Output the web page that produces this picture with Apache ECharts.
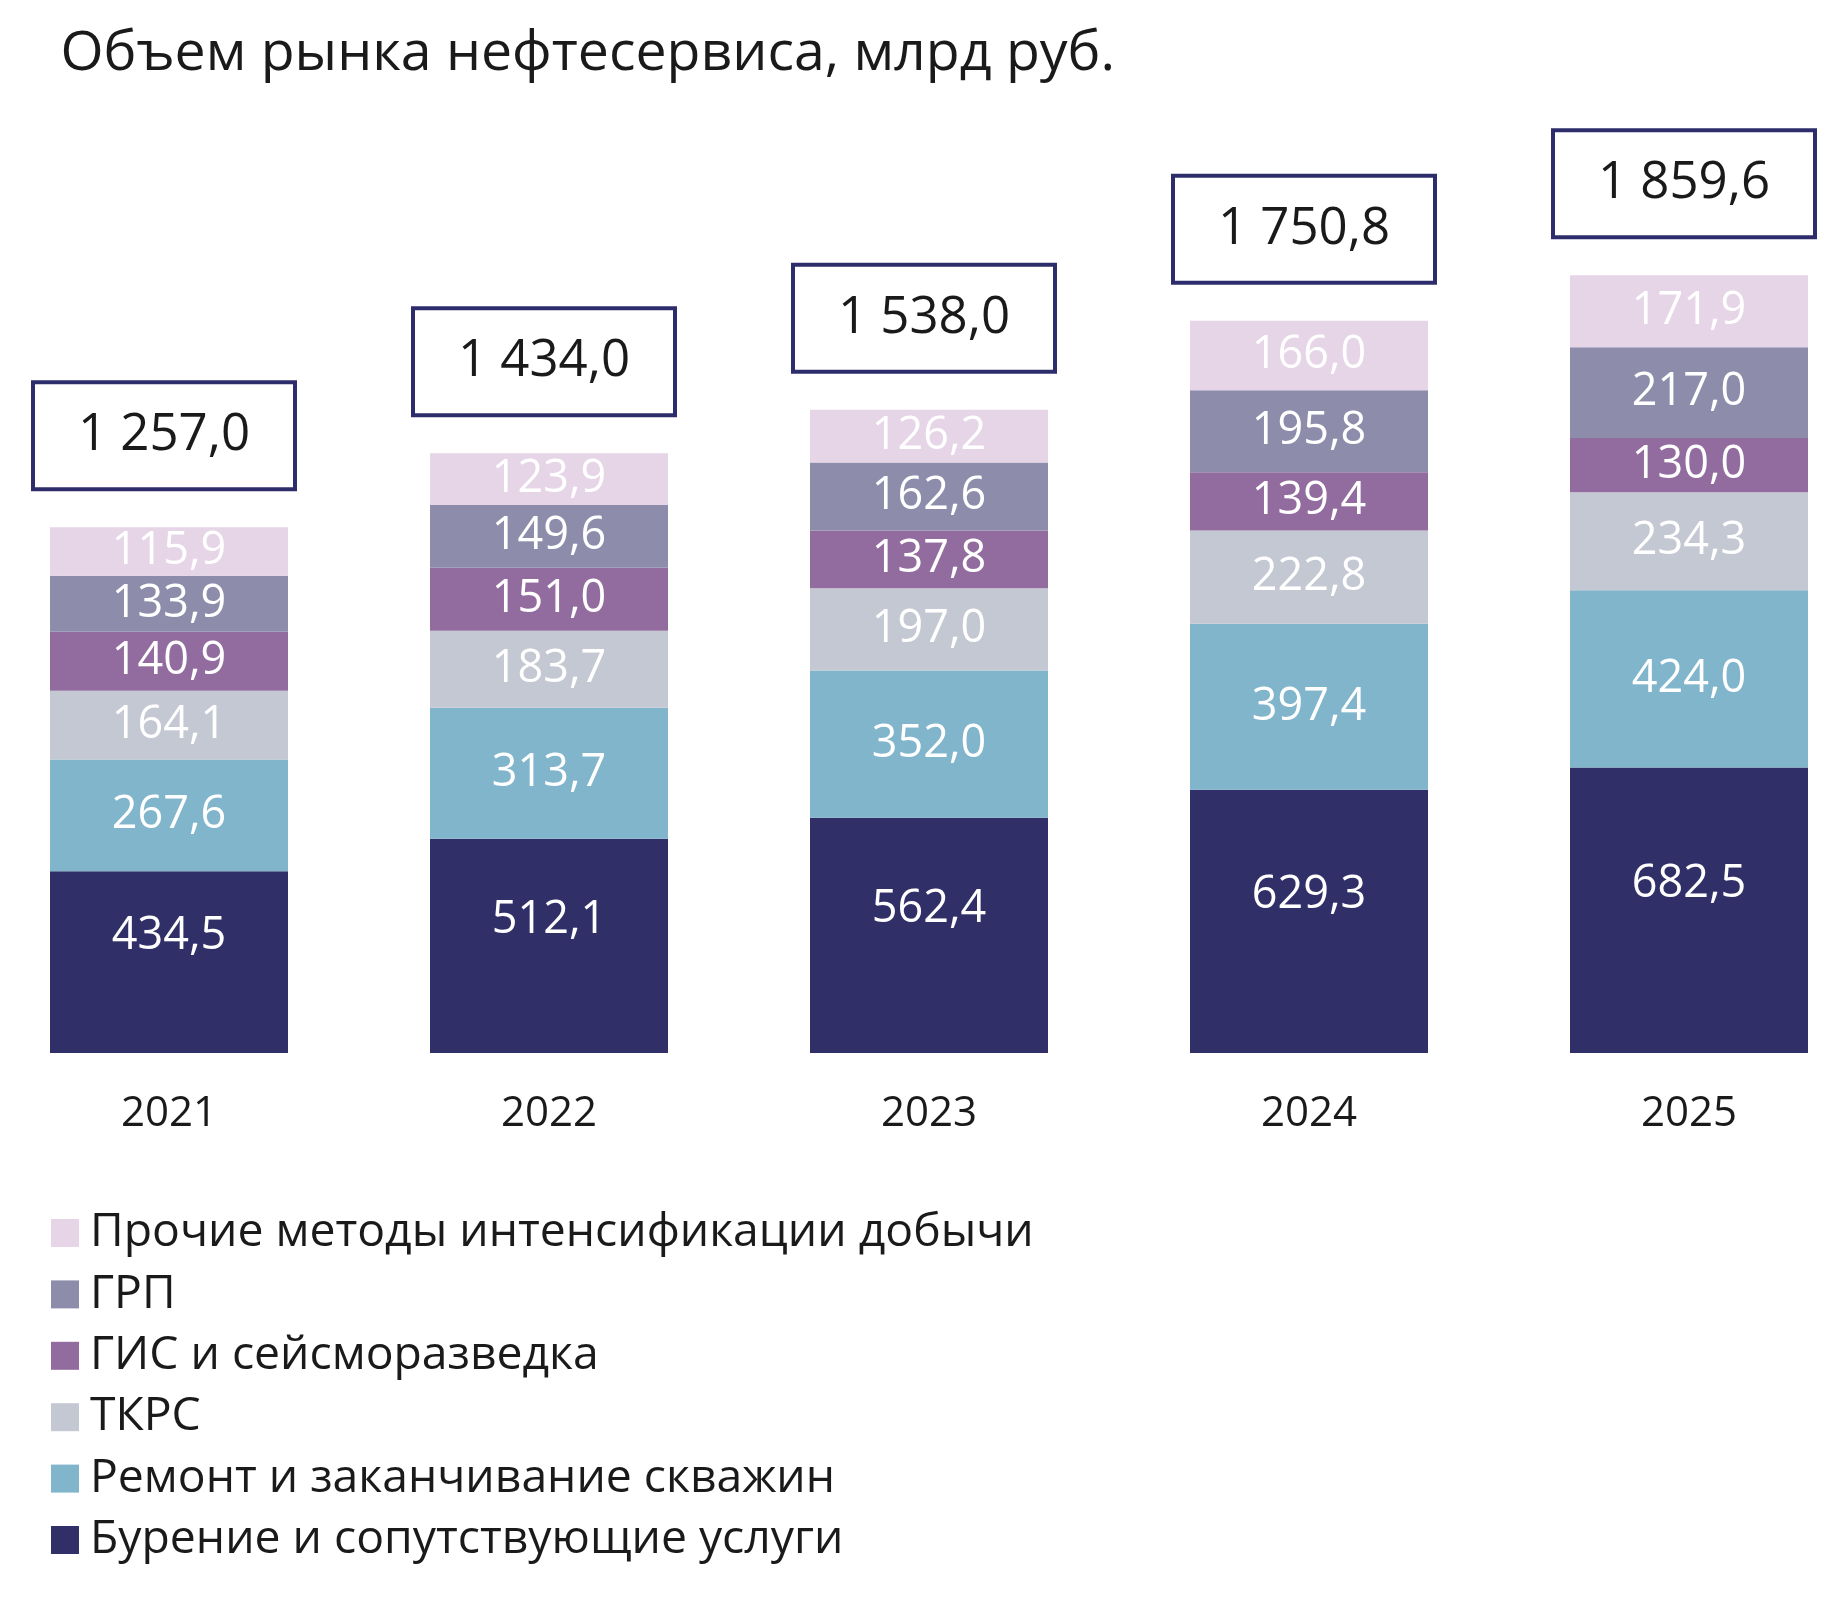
<!DOCTYPE html>
<html>
<head>
<meta charset="utf-8">
<script src="https://cdn.jsdelivr.net/npm/echarts@6/dist/echarts.min.js"></script>
<style>
html,body{margin:0;padding:0;background:#fff;}
#c{width:1840px;height:1600px;}
</style>
</head>
<body>
<div id="c"></div>
<script>
const categories = ['2021', '2022', '2023', '2024', '2025'];
const burenie = [434.5, 512.1, 562.4, 629.3, 682.5];
const remont = [267.6, 313.7, 352.0, 397.4, 424.0];
const tkrs = [164.1, 183.7, 197.0, 222.8, 234.3];
const gis = [140.9, 151.0, 137.8, 139.4, 130.0];
const grp = [133.9, 149.6, 162.6, 195.8, 217.0];
const prochie = [115.9, 123.9, 126.2, 166.0, 171.9];
const totals = [1257.0, 1434.0, 1538.0, 1750.8, 1859.6];

const names = {
  burenie: 'Бурение и сопутствующие услуги',
  remont: 'Ремонт и заканчивание скважин',
  tkrs: 'ТКРС',
  gis: 'ГИС и сейсморазведка',
  grp: 'ГРП',
  prochie: 'Прочие методы интенсификации добычи'
};
const colors = {
  burenie: '#302f67',
  remont: '#80b5cc',
  tkrs: '#c4c8d2',
  gis: '#936c9f',
  grp: '#8d8dab',
  prochie: '#e6d4e7'
};

function fmt(v) {
  const s = v.toFixed(1).replace('.', ',');
  const parts = s.split(',');
  const intPart = parts[0].replace(/\B(?=(\d{3})+(?!\d))/g, ' ');
  return intPart + ',' + parts[1];
}

const FONT = 'Open Sans';

function seg(key, data, offset) {
  return {
    name: names[key],
    type: 'bar',
    stack: 'total',
    barWidth: 238,
    clip: false,
    data: data,
    itemStyle: { color: colors[key] },
    label: {
      show: true,
      position: 'inside',
      color: '#ffffff',
      fontFamily: FONT,
      fontSize: 45,
      offset: offset || [0, 0],
      formatter: p => fmt(p.value)
    },
    emphasis: { disabled: true }
  };
}

const chart = echarts.init(document.getElementById('c'), null, { renderer: 'canvas' });
chart.setOption({
  animation: false,
  backgroundColor: '#ffffff',
  title: {
    text: 'Объем рынка нефтесервиса, млрд руб.',
    left: 60.5,
    top: 27,
    padding: 0,
    textStyle: { fontFamily: FONT, fontSize: 55.4, fontWeight: 'normal', color: '#1a1a1a' }
  },
  legend: {
    orient: 'vertical',
    left: 51,
    top: 1210,
    padding: 0,
    icon: 'rect',
    itemWidth: 28,
    itemHeight: 28,
    itemGap: 15.4,
    data: [names.prochie, names.grp, names.gis, names.tkrs, names.remont, names.burenie],
    textStyle: { fontFamily: FONT, fontSize: 46.3, lineHeight: 44, color: '#1a1a1a', padding: [0, 0, 0, 6] },
    selectedMode: false
  },
  grid: { left: 169, top: 216.6, width: 1520, height: 836.4 },
  xAxis: {
    type: 'category',
    data: categories,
    boundaryGap: false,
    axisLine: { show: false },
    axisTick: { show: false },
    axisLabel: { fontFamily: FONT, fontSize: 42, color: '#1a1a1a', margin: 40 }
  },
  yAxis: {
    type: 'value',
    min: 0,
    max: 2000,
    show: false,
    splitLine: { show: false }
  },
  series: [
    seg('burenie', burenie, [0, -26]),
    seg('remont', remont),
    seg('tkrs', tkrs),
    seg('gis', gis),
    seg('grp', grp),
    seg('prochie', prochie),
    {
      name: 'total',
      type: 'scatter',
      data: totals,
      symbolSize: 0,
      silent: true,
      clip: false,
      itemStyle: { opacity: 1 },
      label: {
        show: true,
        position: 'top',
        distance: 40,
        offset: [-5, 0],
        formatter: p => fmt(p.value),
        fontFamily: FONT,
        fontSize: 51,
        color: '#1a1a1a',
        backgroundColor: '#ffffff',
        borderColor: '#2e2d6b',
        borderWidth: 4,
        width: 258,
        height: 103,
        lineHeight: 103,
        align: 'center',
        padding: 0
      }
    }
  ]
});
</script>
</body>
</html>
